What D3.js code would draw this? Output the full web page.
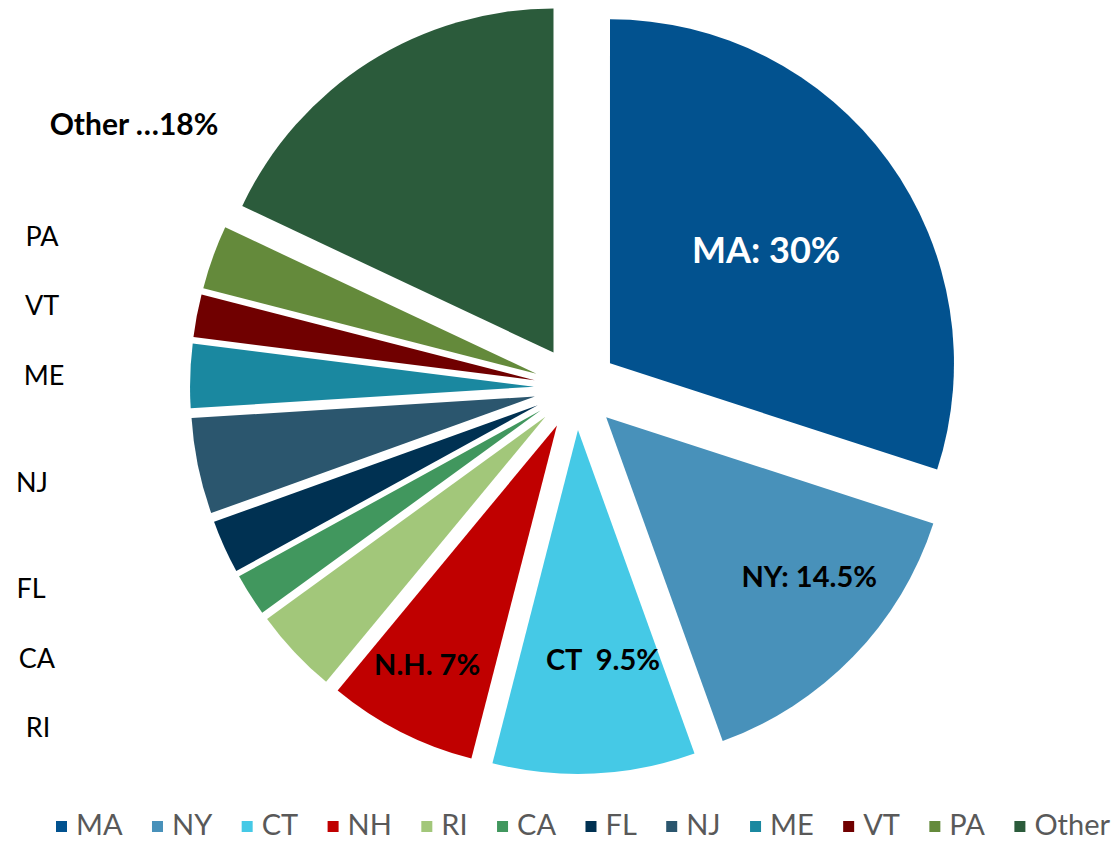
<!DOCTYPE html>
<html>
<head>
<meta charset="utf-8">
<script src="https://cdn.jsdelivr.net/npm/d3@7"></script>
<style>
  html, body { margin: 0; padding: 0; background: #fff; }
  svg { display: block; font-family: Lato, "Open Sans", sans-serif; }
</style>
</head>
<body>
<svg id="chart" width="1117" height="842"></svg>
<script>
// data
var states = ["MA", "NY", "CT", "NH", "RI", "CA", "FL", "NJ", "ME", "VT", "PA", "Other"];
var shares = [30, 14.5, 9.5, 7, 4, 2, 2.5, 4.5, 3, 2, 3, 18];
var colors = ["#02528f", "#4891ba", "#45c9e6", "#c00000", "#a2c77a", "#41975e",
              "#003152", "#2b566e", "#1a88a0", "#700000", "#648a3b", "#2b5b3b"];

// labels drawn inside slices
var innerLabels = {MA: "MA: 30%", NY: "NY: 14.5%", CT: "CT\u00a0\u00a09.5%", NH: "N.H. 7%"};
// leftover labels on the left side
var sideLabels = ["PA", "VT", "ME", "NJ", "FL", "CA", "RI"];
var otherLabel = "Other \u202618%";

// layout
var cx = 576, cy = 388, radius = 344, explode = 42;
var innerLayout = {
    MA: {r: 193, a: 0, fill: "#fff", size: 36},
    NY: {r: 258, a: -6, fill: "#000", size: 29},
    CT: {r: 231, a: -3.5, fill: "#000", size: 29},
    NH: {r: 272, a: 1.5, fill: "#000", size: 29}
};
var sideLayout = {
    PA: [42, 246], VT: [42, 315], ME: [44, 385], NJ: [32, 492],
    FL: [31, 598], CA: [37, 668], RI: [38, 737]
};
var legendLeft = 56, legendRight = 1110, legendBase = 835;

var svg = d3.select("#chart");

var pie = d3.pie().sort(null).value(d => d.value);
var arc = d3.arc().innerRadius(0).outerRadius(radius);

var slices = pie(states.map((s, i) => ({name: s, value: shares[i], color: colors[i]})));

var g = svg.append("g").attr("transform", `translate(${cx},${cy})`);

function offset(d, dist) {
    var mid = (d.startAngle + d.endAngle) / 2;
    return [Math.sin(mid) * dist, -Math.cos(mid) * dist];
}

g.selectAll("path.slice")
    .data(slices)
    .enter()
    .append("path")
    .attr("class", "slice")
    .attr("d", arc)
    .attr("fill", d => d.data.color)
    .attr("transform", d => {
        var o = offset(d, explode);
        return `translate(${o[0]},${o[1]})`;
    });

// labels inside the big slices
g.selectAll("text.inner")
    .data(slices.filter(d => innerLabels[d.data.name]))
    .enter()
    .append("text")
    .attr("class", "inner")
    .attr("text-anchor", "middle")
    .attr("dy", "0.36em")
    .attr("font-weight", "bold")
    .attr("font-size", d => innerLayout[d.data.name].size)
    .attr("fill", d => innerLayout[d.data.name].fill)
    .attr("transform", d => {
        var lay = innerLayout[d.data.name],
            o = offset(d, explode),
            mid = (d.startAngle + d.endAngle) / 2 + lay.a * Math.PI / 180;
        return `translate(${o[0] + Math.sin(mid) * lay.r},${o[1] - Math.cos(mid) * lay.r})`;
    })
    .text(d => innerLabels[d.data.name]);

// side labels
svg.selectAll("text.side")
    .data(sideLabels)
    .enter()
    .append("text")
    .attr("class", "side")
    .attr("text-anchor", "middle")
    .attr("x", d => sideLayout[d][0])
    .attr("y", d => sideLayout[d][1])
    .attr("font-size", 27)
    .attr("fill", "#000")
    .text(d => d);

svg.append("text")
    .attr("x", 134)
    .attr("y", 135)
    .attr("text-anchor", "middle")
    .attr("font-size", 30)
    .attr("font-weight", "bold")
    .attr("fill", "#000")
    .text(otherLabel);

// legend
var legend = svg.append("g").attr("class", "legend");
var items = legend.selectAll("g")
    .data(states)
    .enter()
    .append("g");

items.append("rect")
    .attr("width", 11)
    .attr("height", 11)
    .attr("y", legendBase - 14)
    .attr("fill", (d, i) => colors[i]);

items.append("text")
    .attr("x", 20)
    .attr("y", legendBase)
    .attr("font-size", 29)
    .attr("fill", "#595959")
    .text(d => d);

var widths = [];
items.each(function () {
    widths.push(20 + d3.select(this).select("text").node().getComputedTextLength());
});
var gap = (legendRight - legendLeft - d3.sum(widths)) / (states.length - 1);
var xPos = legendLeft;
items.each(function (d, i) {
    d3.select(this).attr("transform", `translate(${xPos},0)`);
    xPos += widths[i] + gap;
});
</script>
</body>
</html>
